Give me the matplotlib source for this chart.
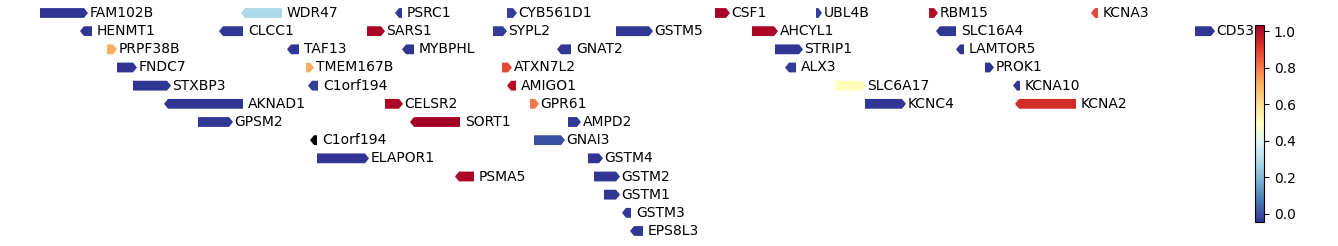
import numpy as np
import matplotlib
matplotlib.use("Agg")
import matplotlib.pyplot as plt
from matplotlib.patches import Polygon
from matplotlib.colors import Normalize

# ------------------ DATOS ------------------
genes = ["FAM102B", "WDR47", "PSRC1", "CYB561D1", "CSF1", "UBL4B", "RBM15", "KCNA3",
         "HENMT1", "CLCC1", "SARS1", "SYPL2", "GSTM5", "AHCYL1", "SLC16A4", "CD53",
         "PRPF38B", "TAF13", "MYBPHL", "GNAT2", "STRIP1", "LAMTOR5",
         "FNDC7", "TMEM167B", "ATXN7L2", "ALX3", "PROK1",
         "STXBP3", "C1orf194", "AMIGO1", "SLC6A17", "KCNA10",
         "AKNAD1", "CELSR2", "GPR61", "KCNC4", "KCNA2",
         "GPSM2", "SORT1", "AMPD2",
         "C1orf194", "GNAI3",
         "ELAPOR1", "GSTM4",
         "PSMA5", "GSTM2",
         "GSTM1",
         "GSTM3",
         "EPS8L3"]
inicio = [40, 241, 395, 507, 715, 816, 929, 1091,
          80, 219, 367, 493, 616, 752, 936, 1195,
          107, 287, 402, 557, 775, 956,
          117, 306, 502, 785, 985,
          133, 308, 507, 835, 1013,
          164, 385, 530, 865, 1015,
          198, 410, 568,
          310, 534,
          317, 588,
          455, 594,
          604,
          622,
          630]
fin = [88, 282, 402, 517, 730, 822, 938, 1098,
       92, 243, 385, 507, 653, 778, 956, 1215,
       117, 299, 414, 571, 803, 964,
       137, 314, 512, 796, 994,
       171, 318, 516, 866, 1020,
       243, 403, 539, 906, 1076,
       233, 460, 581,
       317, 565,
       369, 603,
       474, 620,
       620,
       631,
       643]
hebra = ["+", "-", "-", "+", "+", "+", "+", "-",
         "-", "-", "+", "+", "+", "+", "-", "+",
         "+", "-", "-", "-", "+", "-",
         "+", "+", "+", "-", "+",
         "+", "-", "-", "+", "-",
         "-", "+", "+", "+", "-",
         "+", "-", "+",
         "-", "+",
         "+", "+",
         "-", "+",
         "+",
         "-",
         "-"]
fila = [0, 0, 0, 0, 0, 0, 0, 0,
        1, 1, 1, 1, 1, 1, 1, 1,
        2, 2, 2, 2, 2, 2,
        3, 3, 3, 3, 3,
        4, 4, 4, 4, 4,
        5, 5, 5, 5, 5,
        6, 6, 6,
        7, 7,
        8, 8,
        9, 9,
        10,
        11,
        12]
valor = [-0.044, 0.28, -0.04, -0.03, 1.03, -0.03, 1.0, 0.88,
         -0.04, -0.04, 1.02, -0.03, -0.04, 1.02, -0.04, -0.04,
         0.71, -0.04, -0.04, -0.04, -0.04, -0.04,
         -0.04, 0.71, 0.88, -0.03, -0.04,
         -0.04, -0.03, 1.0, 0.5, -0.04,
         -0.04, 1.02, 0.8, -0.04, 0.93,
         -0.04, 1.033, -0.04,
         np.nan, 0.0,
         -0.04, -0.04,
         1.02, -0.04,
         -0.04,
         -0.04,
         -0.04]

# ------------------ GRAFICADO ------------------
cmap = plt.get_cmap("RdYlBu_r").copy()
cmap.set_bad("black")
norm = Normalize(vmin=np.nanmin(valor), vmax=np.nanmax(valor))

fig = plt.figure(figsize=(13.38, 2.46), dpi=100)
ax = fig.add_axes([0, 0, 1250 / 1338, 1])
ax.set_xlim(0, 1250)
ax.set_ylim(12 + 15 / 18.17, -13 / 18.17)
ax.axis("off")

alto = 0.27     # mitad del alto de la flecha
punta = 4       # largo de la punta

for g, x0, x1, s, r, v in zip(genes, inicio, fin, hebra, fila, valor):
    color = cmap(norm(v)) if not np.isnan(v) else "black"
    p = min(punta, (x1 - x0) * 0.6)
    if s == "+":
        pts = [(x0, r - alto), (x1 - p, r - alto), (x1, r), (x1 - p, r + alto), (x0, r + alto)]
        dx = 1.5
    else:
        pts = [(x1, r - alto), (x0 + p, r - alto), (x0, r), (x0 + p, r + alto), (x1, r + alto)]
        dx = 5
    ax.add_patch(Polygon(pts, closed=True, facecolor=color, edgecolor="none"))
    ax.text(x1 + dx, r, g, ha="left", va="center", fontsize=10)

cax = fig.add_axes([1255 / 1338, 24 / 246, 9 / 1338, 197 / 246])
sm = plt.cm.ScalarMappable(norm=norm, cmap=cmap)
cb = fig.colorbar(sm, cax=cax)
cb.set_ticks([0.0, 0.2, 0.4, 0.6, 0.8, 1.0])
cb.ax.tick_params(labelsize=10)

fig.savefig("out.png", dpi=100)
